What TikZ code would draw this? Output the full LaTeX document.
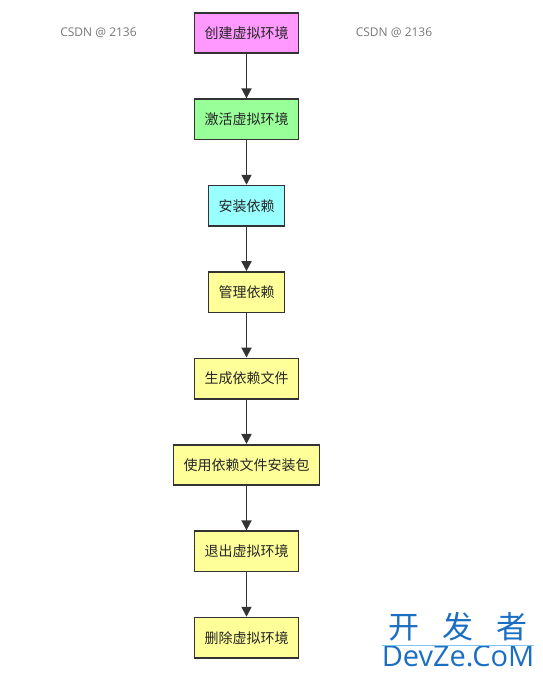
\documentclass[tikz,border=0pt]{standalone}
\usepackage{fontspec}
\setmainfont{Noto Sans CJK SC}
\newfontfamily\latinfont{Open Sans}
\usetikzlibrary{arrows.meta,positioning}
\definecolor{Edge}{HTML}{333333}
\definecolor{Pink}{HTML}{FF99FF}
\definecolor{Mint}{HTML}{99FF99}
\definecolor{Aqua}{HTML}{99FFFF}
\definecolor{Lemon}{HTML}{FFFF99}
\definecolor{Mark}{HTML}{777777}
\definecolor{SiteBlue}{HTML}{1B6EC2}
\definecolor{SiteLine}{HTML}{7CC3EE}
\begin{document}
\begin{tikzpicture}[
  x=1pt,y=1pt,
  node distance=44.3pt,
  stepbox/.style={draw=Edge,line width=1.6pt,minimum height=40.5pt,inner xsep=10pt,font=\fontsize{14}{16}\selectfont,text=black!85},
  boxpink/.style={stepbox,fill=Pink},
  boxmint/.style={stepbox,fill=Mint},
  boxaqua/.style={stepbox,fill=Aqua},
  boxlemon/.style={stepbox,fill=Lemon},
  arrow/.style={-{Triangle[length=10pt,width=10pt]},line width=1.8pt,draw=Edge},
  wmark/.style={text=Mark,font=\latinfont\fontsize{12}{14}\selectfont}
]
\useasboundingbox (0,0) rectangle (543,-677);
\node[boxpink] (create) at (246.5,-33) {创建虚拟环境};
\node[boxmint,below=of create] (activate) {激活虚拟环境};
\node[boxaqua,below=of activate] (install) {安装依赖};
\node[boxlemon,below=of install] (manage) {管理依赖};
\node[boxlemon,below=of manage] (freeze) {生成依赖文件};
\node[boxlemon,below=of freeze] (reqs) {使用依赖文件安装包};
\node[boxlemon,below=of reqs] (leave) {退出虚拟环境};
\node[boxlemon,below=of leave] (remove) {删除虚拟环境};
\draw[arrow] (create) -- (activate);
\draw[arrow] (activate) -- (install);
\draw[arrow] (install) -- (manage);
\draw[arrow] (manage) -- (freeze);
\draw[arrow] (freeze) -- (reqs);
\draw[arrow] (reqs) -- (leave);
\draw[arrow] (leave) -- (remove);
% watermarks
\node[wmark] (markl) at (98.5,-33) {CSDN @ 2136};
\node[wmark] (markr) at (394,-33) {CSDN @ 2136};
\node[text=SiteBlue,font=\fontsize{31}{31}\selectfont,inner sep=0pt] (site) at (458,-627) {开\hspace{23pt}发\hspace{23pt}者};
\node[text=SiteBlue,font=\latinfont\fontsize{29}{29}\selectfont,inner sep=0pt,below=4pt of site] (siteurl) {DevZe.CoM};
\draw[SiteLine,line width=1pt] (siteurl.north west) -- (siteurl.north east);
\end{tikzpicture}
\end{document}
